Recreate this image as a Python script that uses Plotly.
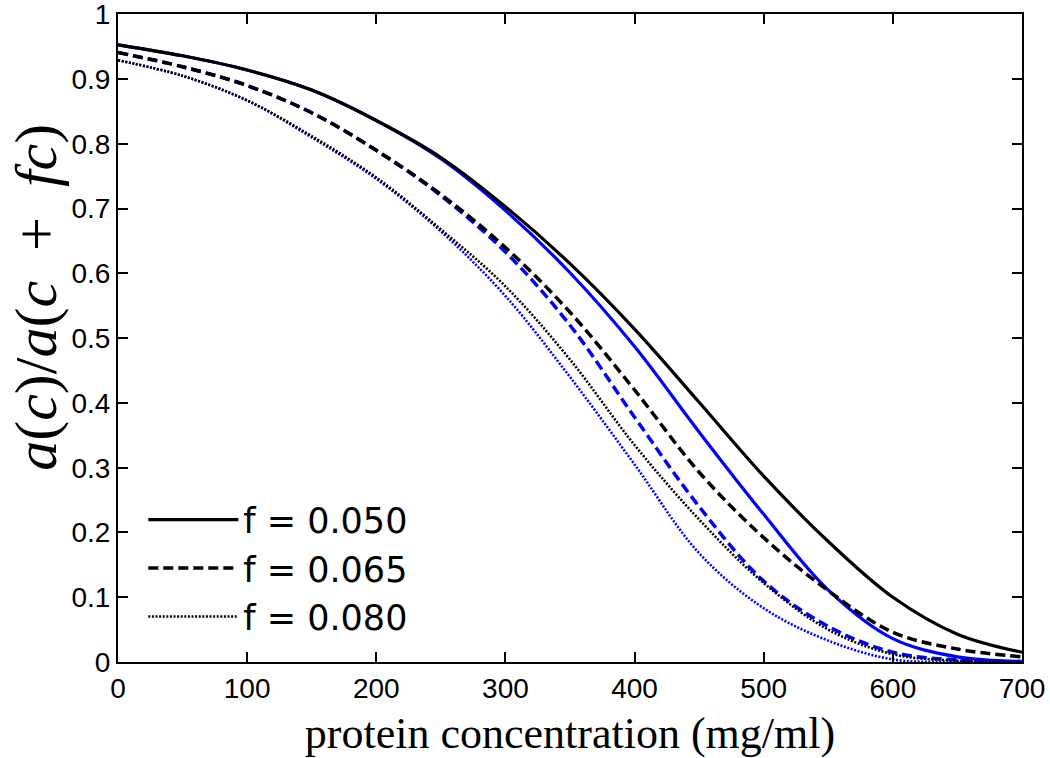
import plotly.graph_objects as go

conc = [0, 50, 100, 150, 200, 250, 300, 350, 400, 450, 500, 550, 600, 650, 700]

black_f050 = [0.953, 0.936, 0.914, 0.883, 0.836, 0.779, 0.703, 0.615, 0.514, 0.401, 0.287, 0.186, 0.100, 0.043, 0.015]
black_f065 = [0.941, 0.919, 0.890, 0.848, 0.790, 0.722, 0.640, 0.540, 0.420, 0.293, 0.192, 0.110, 0.046, 0.020, 0.008]
black_f080 = [0.929, 0.905, 0.867, 0.812, 0.748, 0.668, 0.580, 0.467, 0.335, 0.220, 0.122, 0.050, 0.012, 0.002, 0.000]

blue_f050 = [0.953, 0.936, 0.914, 0.883, 0.836, 0.777, 0.697, 0.601, 0.487, 0.355, 0.228, 0.111, 0.036, 0.008, 0.001]
blue_f065 = [0.941, 0.919, 0.890, 0.848, 0.790, 0.720, 0.633, 0.520, 0.378, 0.240, 0.125, 0.055, 0.015, 0.003, 0.000]
blue_f080 = [0.929, 0.905, 0.867, 0.810, 0.746, 0.665, 0.565, 0.440, 0.305, 0.168, 0.083, 0.033, 0.004, 0.000, 0.000]

legend_names = ["f = 0.050", "f = 0.065", "f = 0.080"]
x_ticks = [0, 100, 200, 300, 400, 500, 600, 700]
y_ticks = [0, 0.1, 0.2, 0.3, 0.4, 0.5, 0.6, 0.7, 0.8, 0.9, 1]
y_tick_text = ["0", "0.1", "0.2", "0.3", "0.4", "0.5", "0.6", "0.7", "0.8", "0.9", "1"]

fig = go.Figure()

styles = [("solid", 3.2), ("10px,5px", 3.5), ("2px,1.6px", 2.6)]
blue_series = [blue_f050, blue_f065, blue_f080]
black_series = [black_f050, black_f065, black_f080]

for ser, (dash, w) in zip(blue_series, styles):
    fig.add_trace(go.Scatter(x=conc, y=ser, mode="lines",
                             line=dict(color="#0000ff", dash=dash, width=w, shape="spline", smoothing=1.0),
                             showlegend=False, hoverinfo="skip"))
for ser, name, (dash, w) in zip(black_series, legend_names, styles):
    fig.add_trace(go.Scatter(x=conc, y=ser, mode="lines", name=name,
                             line=dict(color="#000000", dash=dash, width=w, shape="spline", smoothing=1.0)))

fig.add_annotation(
    text="<i>a</i>(<i>c</i>)/<i>a</i>(<i>c</i>&nbsp; + &nbsp;<i>fc</i>)",
    xref="paper", yref="paper", x=0, y=0.562, xshift=-82,
    xanchor="center", yanchor="middle", textangle=-90, showarrow=False,
    font=dict(family="Liberation Serif, Times New Roman", size=60, color="black"))

fig.update_layout(
    width=1050, height=758,
    margin=dict(l=118, r=28, t=14, b=96),
    paper_bgcolor="white", plot_bgcolor="white",
    font=dict(family="Liberation Sans, Arial", color="black"),
    showlegend=True,
    legend=dict(x=0.028, y=0.265, xanchor="left", yanchor="top",
                font=dict(family="DejaVu Sans", size=35, color="black"),
                bgcolor="rgba(255,255,255,0)", itemwidth=90, tracegroupgap=0,
                traceorder="normal"),
)
fig.update_xaxes(range=[0, 700], tickvals=x_ticks, ticktext=[str(v) for v in x_ticks],
                 ticks="inside", ticklen=10, tickwidth=1.5, tickcolor="black",
                 showline=True, linecolor="black", linewidth=2, mirror="ticks",
                 showgrid=False, zeroline=False, automargin=False, ticklabeloverflow="allow",
                 tickfont=dict(family="Liberation Sans, Arial", size=28, color="black"),
                 title=dict(text="protein concentration (mg/ml)",
                            font=dict(family="Liberation Serif, Times New Roman", size=44, color="black"),
                            standoff=30))
fig.update_yaxes(range=[0, 1.0005], tickvals=y_ticks, ticktext=y_tick_text,
                 ticks="inside", ticklen=10, tickwidth=1.5, tickcolor="black",
                 showline=True, linecolor="black", linewidth=2, mirror="ticks",
                 showgrid=False, zeroline=False, automargin=False, ticklabeloverflow="allow",
                 tickfont=dict(family="Liberation Sans, Arial", size=28, color="black"))

fig.write_html("out.html", config={"displayModeBar": False},
               post_script="document.body.style.margin='0px';")
